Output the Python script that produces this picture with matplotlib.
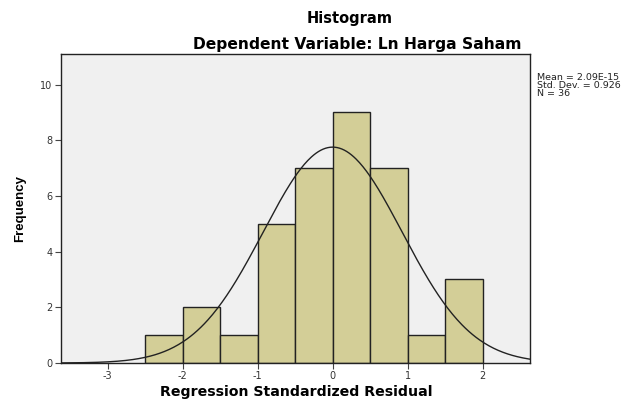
import numpy as np
import matplotlib
matplotlib.use("Agg")
import matplotlib.pyplot as plt

bin_edges = [-2.5, -2.0, -1.5, -1.0, -0.5, 0.0, 0.5, 1.0, 1.5, 2.0]
counts = [1, 2, 1, 5, 7, 9, 7, 1, 3]
mean = 2.09e-15
std = 0.926
n = 36
x_ticks = [-3, -2, -1, 0, 1, 2]
y_ticks = [0, 2, 4, 6, 8, 10]
stats_lines = ['Mean = 2.09E-15', 'Std. Dev. = 0.926', 'N = 36']

plt.rcParams['font.family'] = ['DejaVu Sans']
plt.rcParams['axes.unicode_minus'] = False

W, H = 631, 401
fig = plt.figure(figsize=(W / 100, H / 100), dpi=100)
ax = fig.add_axes([61 / W, (H - 363) / H, 469 / W, 309 / H])
ax.set_facecolor('#f0f0f0')

lefts = bin_edges[:-1]
widths = np.diff(bin_edges)
ax.bar(lefts, counts, width=widths, align='edge', color='#d3ce97',
       edgecolor='#222222', linewidth=1.0, zorder=2)

xlim = (-3.62, 2.63)
xs = np.linspace(xlim[0], xlim[1], 400)
bw = bin_edges[1] - bin_edges[0]
ys = n * bw / (std * np.sqrt(2 * np.pi)) * np.exp(-0.5 * ((xs - mean) / std) ** 2)
ax.plot(xs, ys, color='#222222', linewidth=1.0, zorder=3)

ax.set_xlim(*xlim)
ax.set_ylim(0, 11.1)
ax.set_xticks(x_ticks)
ax.set_yticks(y_ticks)
ax.tick_params(labelsize=7, length=4, width=0.8, color='#444444', labelcolor='#333333', pad=2)
for s in ax.spines.values():
    s.set_color('#222222')
    s.set_linewidth(1.0)

fig.text(296 / W, 1 - 392 / H, 'Regression Standardized Residual', ha='center', va='center',
         fontsize=10.2, fontweight='bold')
fig.text(20 / W, 1 - 209 / H, 'Frequency', ha='center', va='center', rotation=90,
         fontsize=9.5, fontweight='bold',
         family=['DejaVu Sans Condensed', 'Liberation Sans Narrow', 'Liberation Sans'])

fig.text(350 / W, 1 - 18 / H, 'Histogram', ha='center', va='center', fontsize=10.5, fontweight='bold')
fig.text(357 / W, 1 - 44 / H, 'Dependent Variable: Ln Harga Saham', ha='center', va='center',
         fontsize=11.2, fontweight='bold')

for line, yp in zip(stats_lines, [77, 85.5, 94]):
    fig.text(537 / W, 1 - yp / H, line, ha='left', va='center', fontsize=6.8, color='#222222')

fig.savefig('out.png', dpi=100, facecolor='white')
